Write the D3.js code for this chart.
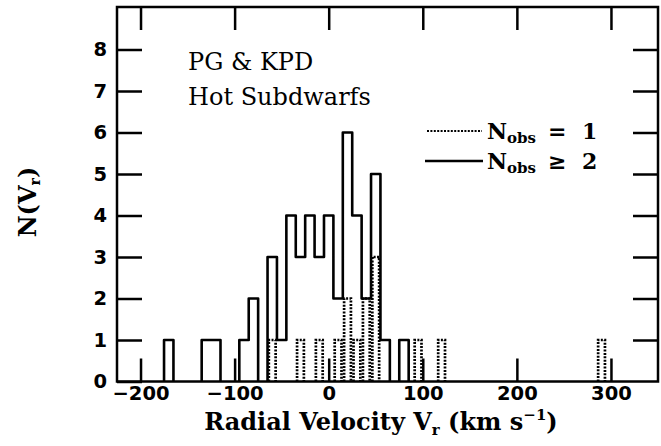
<!DOCTYPE html>
<html>
<head>
<meta charset="utf-8">
<script src="https://cdn.jsdelivr.net/npm/d3@7"></script>
<style>
body { margin: 0; background: #fff; }
svg { display: block; }
.axis text { font-family: 'DejaVu Sans', sans-serif; font-weight: bold; font-size: 19.5px; fill: #000; }
.axis line { stroke: #000; stroke-width: 2.5; }
.axis path { display: none; }
.title { font-family: 'DejaVu Serif', serif; font-weight: bold; font-size: 24px; }
.note { font-family: 'DejaVu Serif', serif; font-size: 24px; }
.legend { font-family: 'DejaVu Serif', serif; font-weight: bold; font-size: 22px; }
</style>
</head>
<body>
<svg width="661" height="446"></svg>
<script>
var svg = d3.select('svg');

// histogram bins, 10 km/s wide, keyed by left edge
var binWidth = 10;
var multiStarts = [-175, -135, -125, -95, -85, -65, -55, -45, -35, -25, -15, -5, 5, 15, 25, 35, 45, 55, 75];
var multiCounts = [1, 1, 1, 1, 2, 3, 1, 4, 3, 4, 3, 4, 2, 6, 4, 2, 5, 1, 1];
var singleStarts = [-65, -35, -15, 5, 15, 25, 35, 45, 90, 115, 285];
var singleCounts = [1, 1, 1, 1, 2, 1, 2, 3, 1, 1, 1];

var xTicks = [-200, -100, 0, 100, 200, 300];
var yTicks = [0, 1, 2, 3, 4, 5, 6, 7, 8];

// plot box
var box = {l: 117, r: 658, t: 7, b: 381.5};

var x = d3.scaleLinear().domain([-225, 350]).range([box.l, box.r]);
var y = d3.scaleLinear().domain([0, 9]).range([box.b, box.t + 1]);

// frame
svg.append('rect')
    .attr('x', box.l).attr('y', box.t)
    .attr('width', box.r - box.l).attr('height', box.b - box.t)
    .attr('fill', 'none').attr('stroke', '#000').attr('stroke-width', 2.5);

// axes with inward ticks
svg.append('g').attr('class', 'axis')
    .attr('transform', 'translate(0,' + box.b + ')')
    .call(d3.axisBottom(x).tickValues(xTicks).tickSize(-23).tickPadding(5));
svg.append('g').attr('class', 'axis')
    .attr('transform', 'translate(0,' + box.t + ')')
    .call(d3.axisTop(x).tickValues(xTicks).tickSize(-23).tickFormat(''));
svg.append('g').attr('class', 'axis')
    .attr('transform', 'translate(' + box.l + ',0)')
    .call(d3.axisLeft(y).tickValues(yTicks).tickSize(-25).tickPadding(10));
svg.append('g').attr('class', 'axis')
    .attr('transform', 'translate(' + box.r + ',0)')
    .call(d3.axisRight(y).tickValues(yTicks.slice(1)).tickSize(-25).tickFormat(''));

// solid step outline for N_obs >= 2
function stepPath(starts, counts) {
    var p = '', prevEnd = null;
    starts.forEach(function(s, i) {
        if (prevEnd === null || s !== prevEnd) {
            if (prevEnd !== null) p += 'V' + y(0);
            p += 'M' + x(s) + ',' + y(0);
        }
        p += 'V' + y(counts[i]) + 'H' + x(s + binWidth);
        prevEnd = s + binWidth;
    });
    return p + 'V' + y(0);
}

// dotted bars for N_obs = 1, each bin drawn on its own
svg.append('g').selectAll('path')
    .data(singleStarts)
    .enter()
    .append('path')
    .attr('d', function(s, i) {
        return 'M' + (x(s) + 1.3) + ',' + y(0) + 'V' + y(singleCounts[i]) +
            'H' + (x(s + binWidth) - 1.3) + 'V' + y(0);
    })
    .attr('fill', 'none').attr('stroke', '#000')
    .attr('stroke-width', 2.7).attr('stroke-dasharray', '2,1.4');

svg.append('path')
    .attr('d', stepPath(multiStarts, multiCounts))
    .attr('fill', 'none').attr('stroke', '#000')
    .attr('stroke-width', 2.6).attr('stroke-linejoin', 'round');

// axis titles
var xt = svg.append('text').attr('class', 'title')
    .attr('x', 381).attr('y', 430).attr('text-anchor', 'middle');
xt.append('tspan').text('Radial Velocity V');
xt.append('tspan').text('r').attr('font-size', 15).attr('dy', 5);
xt.append('tspan').text(' (km s').attr('dy', -5);
xt.append('tspan').text('−1').attr('font-size', 15).attr('dy', -10);
xt.append('tspan').text(')').attr('dy', 10);

var yt = svg.append('text').attr('class', 'title')
    .attr('font-size', 20)
    .attr('transform', 'translate(36,202) rotate(-90)')
    .attr('text-anchor', 'middle');
yt.append('tspan').text('N(V');
yt.append('tspan').text('r').attr('font-size', 14).attr('dy', 4);
yt.append('tspan').text(')').attr('dy', -4);

// sample label
svg.append('text').attr('class', 'note').attr('x', 188).attr('y', 70).text('PG & KPD');
svg.append('text').attr('class', 'note').attr('x', 188).attr('y', 105).text('Hot Subdwarfs');

// legend
svg.append('line').attr('x1', 427).attr('x2', 482).attr('y1', 131).attr('y2', 131)
    .attr('stroke', '#000').attr('stroke-width', 2).attr('stroke-dasharray', '2,1.4');
svg.append('line').attr('x1', 425).attr('x2', 483).attr('y1', 161).attr('y2', 161)
    .attr('stroke', '#000').attr('stroke-width', 2.5);

var legendText = [['=', '1', 139], ['≥', '2', 169]];
legendText.forEach(function(d) {
    var t = svg.append('text').attr('class', 'legend').attr('x', 487).attr('y', d[2]);
    t.append('tspan').text('N');
    t.append('tspan').text('obs').attr('font-size', 15).attr('dy', 4);
    t.append('tspan').text(d[0]).attr('x', 548).attr('dy', -4);
    t.append('tspan').text(d[1]).attr('x', 582);
});
</script>
</body>
</html>
